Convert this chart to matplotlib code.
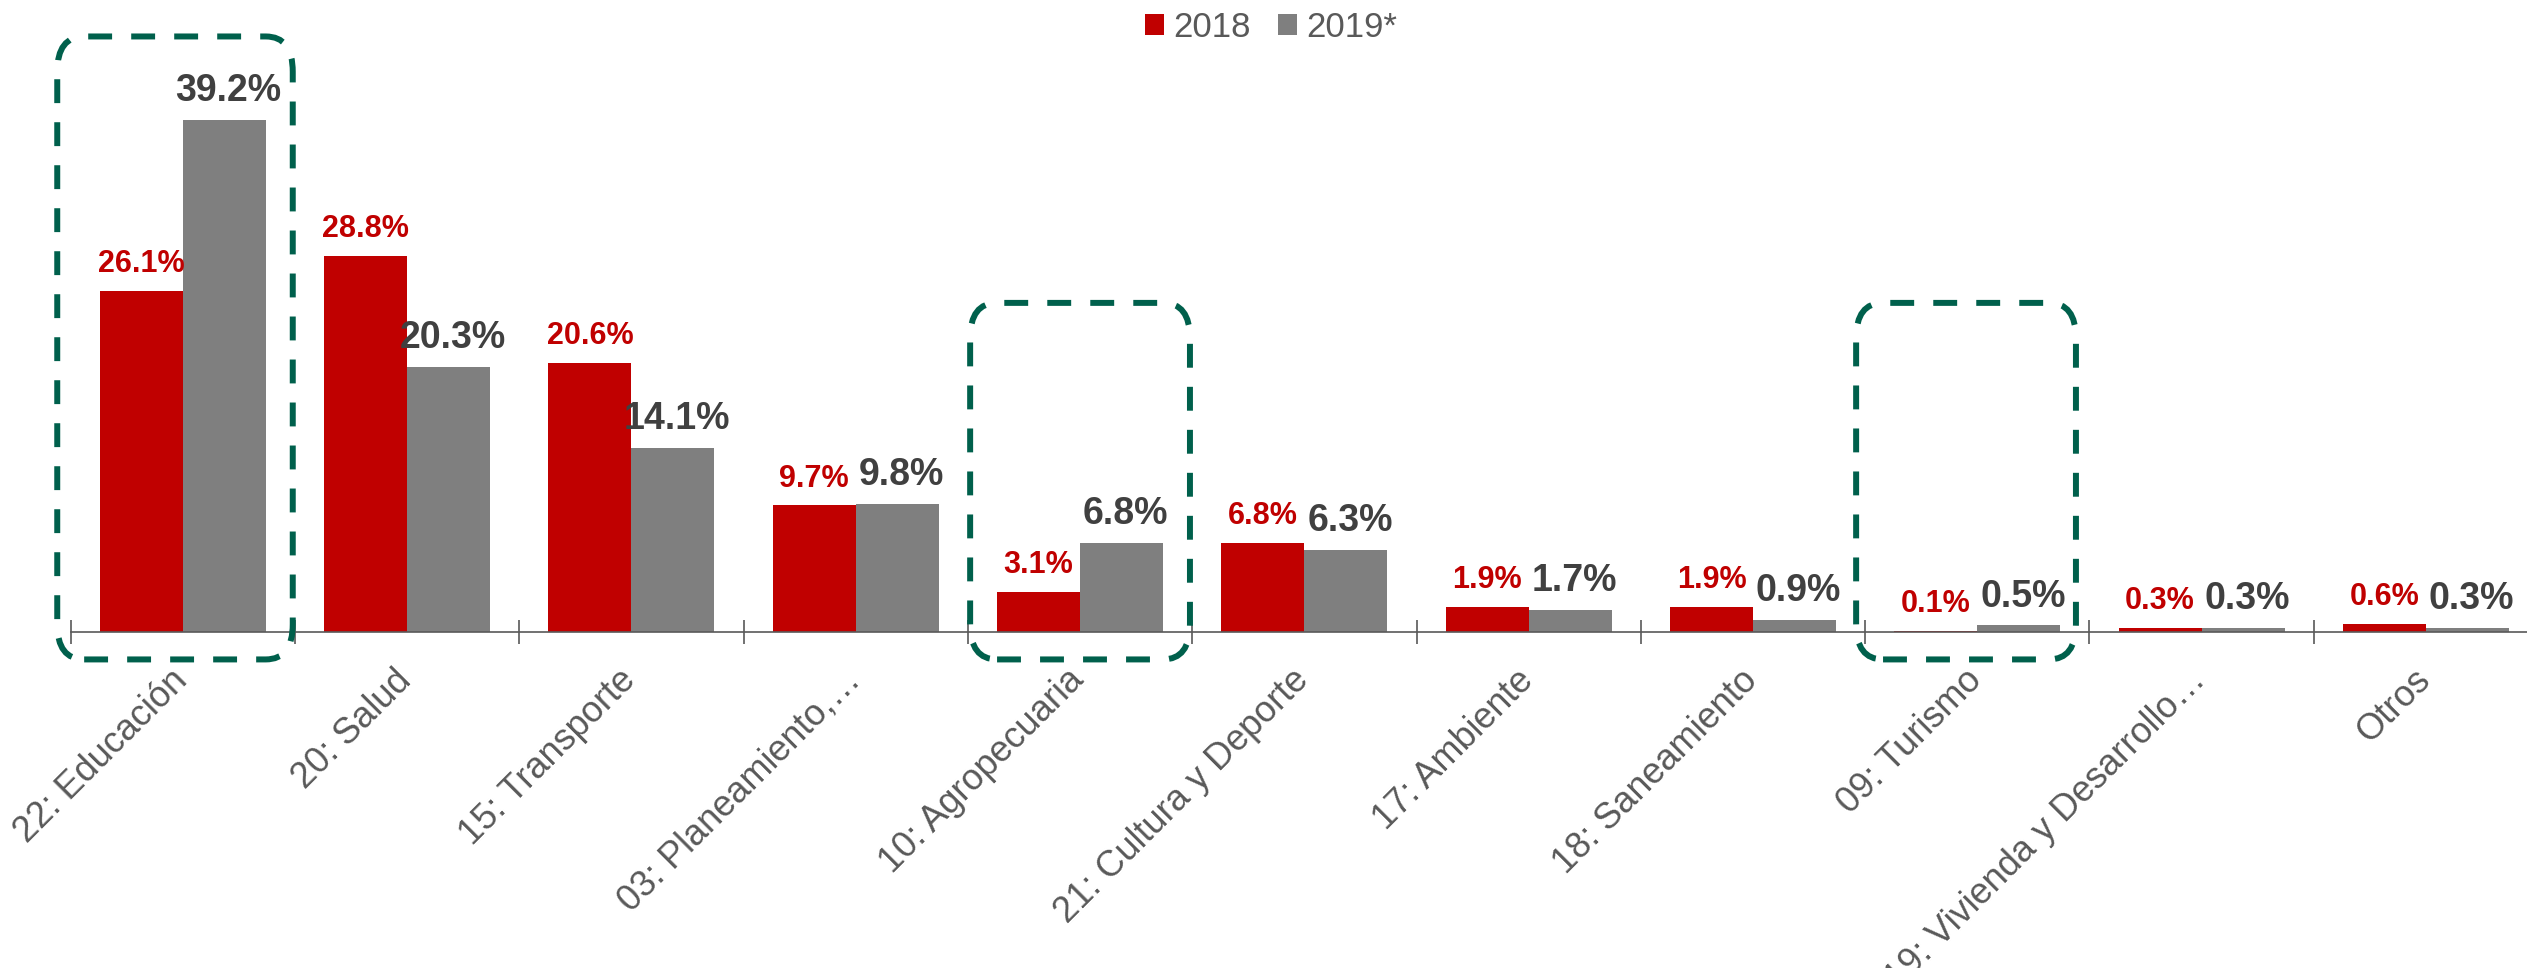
import numpy as np
import matplotlib
matplotlib.use("Agg")
import matplotlib.pyplot as plt
from matplotlib.patches import FancyBboxPatch
from matplotlib.ticker import FixedLocator
import matplotlib.transforms as mtransforms

plt.rcParams['font.family'] = ['Liberation Sans', 'DejaVu Sans']

# data
categories = ['22: Educación', '20: Salud', '15: Transporte', '03: Planeamiento,…',
              '10: Agropecuaria', '21: Cultura y Deporte', '17: Ambiente',
              '18: Saneamiento', '09: Turismo', '19: Vivienda y Desarrollo…', 'Otros']
vals_2018 = [26.1, 28.8, 20.6, 9.7, 3.1, 6.8, 1.9, 1.9, 0.1, 0.3, 0.6]
vals_2019 = [39.2, 20.3, 14.1, 9.8, 6.8, 6.3, 1.7, 0.9, 0.5, 0.3, 0.3]
series = ['2018', '2019*']

# highlighted categories (dashed boxes) and the height of each box top
highlight = [0, 4, 8]
box_tops = [45.6, 25.2, 25.2]

RED = '#C00000'
GRAY = '#7F7F7F'
GREEN = '#00604C'
AXIS = '#595959'

W, H = 2527, 968
fig = plt.figure(figsize=(W / 100, H / 100), dpi=100)

# axes placement in pixels
x_left = 70.7
y_axis = 632
px_cat = 224.3
px_pct = 13.06
ytop = 46
ax = fig.add_axes([x_left / W, (H - y_axis) / H, 1 - x_left / W, ytop * px_pct / H])
ax.set_xlim(-0.5, -0.5 + (W - x_left) / px_cat)
ax.set_ylim(0, ytop)

idx = np.arange(len(categories))
w = 0.37
b1 = ax.bar(idx - w / 2, vals_2018, w, color=RED, label=series[0])
b2 = ax.bar(idx + w / 2, vals_2019, w, color=GRAY, label=series[1])

for x, v in zip(idx - w / 2, vals_2018):
    ax.annotate(f'{v:.1f}%', (x, v), xytext=(0, 13.5), textcoords='offset points',
                ha='center', va='baseline', fontsize=22, fontweight='bold', color=RED)
for x, v in zip(idx + w / 2, vals_2019):
    ax.annotate(f'{v:.1f}%', (x, v), xytext=(3, 13.5), textcoords='offset points',
                ha='center', va='baseline', fontsize=27, fontweight='bold', color='#404040')

# axes styling
for s in ['left', 'right', 'top']:
    ax.spines[s].set_visible(False)
ax.spines['bottom'].set_color(AXIS)
ax.spines['bottom'].set_linewidth(1.2)
ax.set_yticks([])
ax.set_xticks(idx)
ax.set_xticklabels(categories, rotation=45, ha='right', va='center',
                   rotation_mode='anchor', fontsize=26, color=AXIS)
ax.xaxis.set_minor_locator(FixedLocator(np.arange(-0.5, len(categories) + 0.5, 1)))
ax.tick_params(axis='x', which='major', length=0, pad=31)
ax.tick_params(axis='x', which='minor', direction='inout', length=17, width=1.2, color=AXIS)
shift = mtransforms.ScaledTranslation(-1 / 100, 0, fig.dpi_scale_trans)
for lbl in ax.get_xticklabels():
    lbl.set_transform(lbl.get_transform() + shift)

# dashed rounded highlight boxes
r = 0.12
aspect = 2.7 / r
lefts = [-0.56, -0.49, -0.54]
rights = [0.49, 0.49, 0.44]
for i, top, l, rr in zip(highlight, box_tops, lefts, rights):
    x0 = i + l
    y0 = -2.1
    box = FancyBboxPatch((x0, y0), rr - l, top - y0,
                         boxstyle=f'round,pad=0,rounding_size={r}',
                         mutation_aspect=aspect, transform=ax.transData,
                         clip_on=False, fill=False, ec=GREEN, lw=4.3,
                         ls=(0, (4, 3.2)), zorder=5)
    ax.add_patch(box)

fig.legend(handles=[b1, b2], labels=series, loc='upper center',
           bbox_to_anchor=(1271 / W, 1.0 + 10 / H), ncol=2, frameon=False,
           fontsize=25, labelcolor=AXIS, handlelength=0.55, handleheight=0.55,
           handletextpad=0.25, columnspacing=0.8, borderaxespad=0.2)

fig.savefig('out.png', dpi=100, facecolor='white')
